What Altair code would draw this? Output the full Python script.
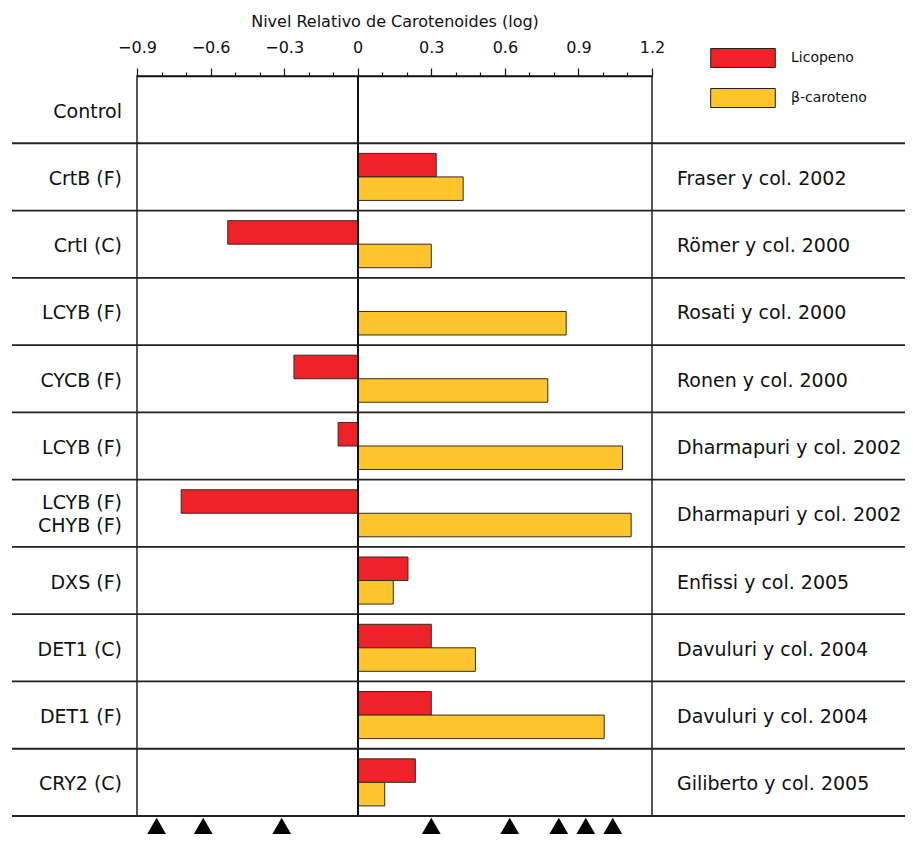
import altair as alt
import pandas as pd

# ---- data ----
row_labels = ["Control", "CrtB (F)", "CrtI (C)", "LCYB (F)", "CYCB (F)", "LCYB (F)",
              "LCYB (F)\nCHYB (F)", "DXS (F)", "DET1 (C)", "DET1 (F)", "CRY2 (C)"]
references = ["", "Fraser y col. 2002", "Römer y col. 2000", "Rosati y col. 2000",
              "Ronen y col. 2000", "Dharmapuri y col. 2002", "Dharmapuri y col. 2002",
              "Enfissi y col. 2005", "Davuluri y col. 2004", "Davuluri y col. 2004",
              "Giliberto y col. 2005"]
licopeno = [None, 0.32, -0.53, None, -0.26, -0.08, -0.72, 0.205, 0.30, 0.30, 0.235]
beta_caroteno = [None, 0.43, 0.30, 0.85, 0.775, 1.08, 1.115, 0.145, 0.48, 1.005, 0.11]
series = ["Licopeno", "β-caroteno"]
colors = ["#EE2229", "#FEC52E"]
triangles = [-0.82, -0.63, -0.31, 0.30, 0.62, 0.82, 0.93, 1.04]
tick_values = [-0.9, -0.8, -0.7, -0.6, -0.5, -0.4, -0.3, -0.2, -0.1, 0.0,
               0.1, 0.2, 0.3, 0.4, 0.5, 0.6, 0.7, 0.8, 0.9, 1.0, 1.1, 1.2]

FONT = "DejaVu Sans"

rows_df = pd.DataFrame({"rid": list(range(len(row_labels))),
                        "label": row_labels, "ref": references})
bars = []
for i in range(len(row_labels)):
    for s, vals in zip(series, [licopeno, beta_caroteno]):
        if vals[i] is not None:
            bars.append({"rid": i, "serie": s, "valor": vals[i]})
bars_df = pd.DataFrame(bars)
tri_df = pd.DataFrame({"v": triangles})

y_scale = alt.Scale(domain=list(range(len(row_labels))), paddingInner=0, paddingOuter=0)
x_scale = alt.Scale(domain=[-0.9, 1.2], nice=False, zero=False)

major = "abs(round(datum.value*10)) % 3 == 0"

x_axis = alt.Axis(orient="top", values=tick_values, format=".1~f",
                  labelExpr=f"{major} ? datum.label : ''",
                  tickSize={"condition": {"test": major, "value": 8}, "value": 4},
                  title="Nivel Relativo de Carotenoides (log)",
                  grid=False, domainColor="#111", domainWidth=1.5,
                  tickColor="#111", tickWidth=1.2, labelFlush=False,
                  labelFont=FONT, labelFontSize=16, labelColor="#111",
                  labelPadding=13,
                  titleFont=FONT, titleFontSize=16, titleFontWeight="normal",
                  titleColor="#111", titlePadding=10)

bar_layer = alt.Chart(bars_df).mark_bar(stroke="#3a2a1a", strokeWidth=1).encode(
    x=alt.X("valor:Q", scale=x_scale, axis=x_axis),
    y=alt.Y("rid:O", scale=y_scale, axis=None),
    yOffset=alt.YOffset("serie:N", scale=alt.Scale(domain=series, paddingOuter=0.43,
                                                   paddingInner=0)),
    color=alt.Color("serie:N", scale=alt.Scale(domain=series, range=colors),
                    legend=alt.Legend(orient="none", legendX=596, legendY=-28, title=None,
                                      padding=0,
                                      symbolType="M-3.4,-1H3.4V1H-3.4Z", symbolSize=361,
                                      symbolStrokeColor="#222", symbolStrokeWidth=1,
                                      symbolOpacity=1,
                                      labelFont=FONT, labelFontSize=14, labelColor="#111",
                                      labelOffset=38, rowPadding=16)),
)

zero_rule = alt.Chart(rows_df).mark_rule(color="#111", strokeWidth=1.2).encode(
    x=alt.datum(0, scale=x_scale, axis=x_axis)
)

sep_rules = alt.Chart(rows_df).mark_rule(color="#222", strokeWidth=1.8).encode(
    y=alt.Y("rid:O", scale=y_scale, axis=None, bandPosition=1),
    x=alt.value(-125), x2=alt.value(768),
)

left_single = alt.Chart(rows_df).transform_filter(
    "indexof(datum.label, '\\n') < 0"
).mark_text(
    align="right", baseline="middle", font=FONT, fontSize=19, color="#111", dy=2,
).encode(
    y=alt.Y("rid:O", scale=y_scale, axis=None),
    x=alt.value(-15),
    text="label:N",
)

left_multi = alt.Chart(rows_df).transform_filter(
    "indexof(datum.label, '\\n') >= 0"
).mark_text(
    align="right", baseline="middle", font=FONT, fontSize=19, color="#111",
    lineBreak="\n", lineHeight=23, dy=-10,
).encode(
    y=alt.Y("rid:O", scale=y_scale, axis=None),
    x=alt.value(-15),
    text="label:N",
)

right_text = alt.Chart(rows_df).mark_text(
    align="left", baseline="middle", font=FONT, fontSize=19, color="#111", dy=2,
).encode(
    y=alt.Y("rid:O", scale=y_scale, axis=None),
    x=alt.value(540),
    text="ref:N",
)

tri_layer = alt.Chart(tri_df).mark_point(shape="triangle-up", filled=True, color="black",
                                          size=360, opacity=1).encode(
    x=alt.X("v:Q", scale=x_scale, axis=x_axis),
    y=alt.value(750),
)

chart = alt.layer(bar_layer, zero_rule, tri_layer, sep_rules, left_single, left_multi,
                  right_text).properties(
    width=515, height=740,
    padding={"left": 129, "top": 68, "right": 253, "bottom": 18},
    autosize=alt.AutoSizeParams(type="none"),
).configure(background="white").configure_view(stroke="#222", strokeWidth=1.5)

chart.save("out.html", embed_options={"renderer": "svg", "actions": False})
